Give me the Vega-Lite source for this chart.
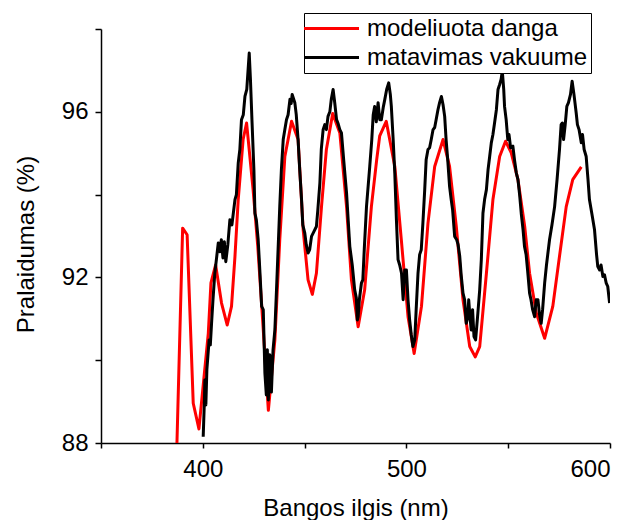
{
  "$schema": "https://vega.github.io/schema/vega-lite/v6.json",
  "width": 509,
  "height": 414,
  "autosize": {"type": "none"},
  "padding": {"left": 101, "top": 29, "right": 22, "bottom": 77},
  "background": "white",
  "config": {
    "font": "Liberation Sans",
    "view": {"stroke": null},
    "axis": {
      "grid": false,
      "domainColor": "black",
      "domainWidth": 1.5,
      "tickColor": "black",
      "tickWidth": 1.5,
      "labelColor": "black",
      "titleColor": "black",
      "labelFontSize": 24,
      "titleFontSize": 24,
      "titleFontWeight": "normal",
      "labelFont": "Liberation Sans",
      "titleFont": "Liberation Sans"
    }
  },
  "data": {"values": [
    {"series": "modeliuota danga", "x": 387.3, "y": 88.0},
    {"series": "modeliuota danga", "x": 390.1, "y": 93.19},
    {"series": "modeliuota danga", "x": 392.3, "y": 93.03},
    {"series": "modeliuota danga", "x": 395.3, "y": 88.96},
    {"series": "modeliuota danga", "x": 398.1, "y": 88.34},
    {"series": "modeliuota danga", "x": 402.7, "y": 90.65},
    {"series": "modeliuota danga", "x": 404.0, "y": 91.87},
    {"series": "modeliuota danga", "x": 406.3, "y": 92.30},
    {"series": "modeliuota danga", "x": 409.2, "y": 91.38},
    {"series": "modeliuota danga", "x": 412.0, "y": 90.85},
    {"series": "modeliuota danga", "x": 414.1, "y": 91.30},
    {"series": "modeliuota danga", "x": 415.8, "y": 92.51},
    {"series": "modeliuota danga", "x": 417.4, "y": 93.88},
    {"series": "modeliuota danga", "x": 419.8, "y": 95.33},
    {"series": "modeliuota danga", "x": 421.5, "y": 95.73},
    {"series": "modeliuota danga", "x": 424.7, "y": 94.12},
    {"series": "modeliuota danga", "x": 427.0, "y": 92.75},
    {"series": "modeliuota danga", "x": 429.6, "y": 90.81},
    {"series": "modeliuota danga", "x": 432.2, "y": 88.79},
    {"series": "modeliuota danga", "x": 435.4, "y": 90.49},
    {"series": "modeliuota danga", "x": 437.8, "y": 92.91},
    {"series": "modeliuota danga", "x": 440.3, "y": 94.92},
    {"series": "modeliuota danga", "x": 443.6, "y": 95.77},
    {"series": "modeliuota danga", "x": 446.8, "y": 95.33},
    {"series": "modeliuota danga", "x": 449.3, "y": 93.15},
    {"series": "modeliuota danga", "x": 451.7, "y": 91.94},
    {"series": "modeliuota danga", "x": 453.8, "y": 91.59},
    {"series": "modeliuota danga", "x": 455.8, "y": 92.10},
    {"series": "modeliuota danga", "x": 458.3, "y": 93.71},
    {"series": "modeliuota danga", "x": 460.7, "y": 95.09},
    {"series": "modeliuota danga", "x": 463.8, "y": 95.96},
    {"series": "modeliuota danga", "x": 467.3, "y": 95.49},
    {"series": "modeliuota danga", "x": 470.6, "y": 93.71},
    {"series": "modeliuota danga", "x": 473.0, "y": 91.94},
    {"series": "modeliuota danga", "x": 476.3, "y": 90.81},
    {"series": "modeliuota danga", "x": 479.5, "y": 91.70},
    {"series": "modeliuota danga", "x": 482.8, "y": 93.71},
    {"series": "modeliuota danga", "x": 485.4, "y": 94.84},
    {"series": "modeliuota danga", "x": 486.9, "y": 95.42},
    {"series": "modeliuota danga", "x": 490.1, "y": 95.77},
    {"series": "modeliuota danga", "x": 494.3, "y": 94.68},
    {"series": "modeliuota danga", "x": 497.5, "y": 92.91},
    {"series": "modeliuota danga", "x": 500.8, "y": 91.05},
    {"series": "modeliuota danga", "x": 503.8, "y": 90.16},
    {"series": "modeliuota danga", "x": 507.4, "y": 91.30},
    {"series": "modeliuota danga", "x": 510.6, "y": 93.31},
    {"series": "modeliuota danga", "x": 513.9, "y": 94.68},
    {"series": "modeliuota danga", "x": 518.0, "y": 95.33},
    {"series": "modeliuota danga", "x": 521.2, "y": 94.68},
    {"series": "modeliuota danga", "x": 524.5, "y": 93.23},
    {"series": "modeliuota danga", "x": 527.8, "y": 91.46},
    {"series": "modeliuota danga", "x": 531.1, "y": 90.33},
    {"series": "modeliuota danga", "x": 533.8, "y": 90.08},
    {"series": "modeliuota danga", "x": 536.0, "y": 90.33},
    {"series": "modeliuota danga", "x": 539.3, "y": 92.10},
    {"series": "modeliuota danga", "x": 542.5, "y": 93.88},
    {"series": "modeliuota danga", "x": 545.8, "y": 94.92},
    {"series": "modeliuota danga", "x": 548.7, "y": 95.29},
    {"series": "modeliuota danga", "x": 551.5, "y": 95.01},
    {"series": "modeliuota danga", "x": 554.8, "y": 94.36},
    {"series": "modeliuota danga", "x": 558.1, "y": 93.23},
    {"series": "modeliuota danga", "x": 560.5, "y": 92.10},
    {"series": "modeliuota danga", "x": 563.8, "y": 91.14},
    {"series": "modeliuota danga", "x": 567.9, "y": 90.53},
    {"series": "modeliuota danga", "x": 571.9, "y": 91.30},
    {"series": "modeliuota danga", "x": 575.2, "y": 92.51},
    {"series": "modeliuota danga", "x": 578.5, "y": 93.71},
    {"series": "modeliuota danga", "x": 581.7, "y": 94.36},
    {"series": "modeliuota danga", "x": 585.9, "y": 94.67},
    {"series": "matavimas vakuume", "x": 400.2, "y": 88.15},
    {"series": "matavimas vakuume", "x": 400.8, "y": 89.04},
    {"series": "matavimas vakuume", "x": 401.0, "y": 89.52},
    {"series": "matavimas vakuume", "x": 401.5, "y": 88.92},
    {"series": "matavimas vakuume", "x": 402.0, "y": 89.77},
    {"series": "matavimas vakuume", "x": 403.1, "y": 90.49},
    {"series": "matavimas vakuume", "x": 403.7, "y": 90.37},
    {"series": "matavimas vakuume", "x": 404.3, "y": 90.89},
    {"series": "matavimas vakuume", "x": 405.0, "y": 91.46},
    {"series": "matavimas vakuume", "x": 405.9, "y": 92.10},
    {"series": "matavimas vakuume", "x": 407.6, "y": 92.83},
    {"series": "matavimas vakuume", "x": 408.4, "y": 92.62},
    {"series": "matavimas vakuume", "x": 409.1, "y": 92.91},
    {"series": "matavimas vakuume", "x": 409.9, "y": 92.47},
    {"series": "matavimas vakuume", "x": 410.6, "y": 92.86},
    {"series": "matavimas vakuume", "x": 411.3, "y": 92.38},
    {"series": "matavimas vakuume", "x": 412.3, "y": 92.79},
    {"series": "matavimas vakuume", "x": 413.3, "y": 93.39},
    {"series": "matavimas vakuume", "x": 414.3, "y": 93.27},
    {"series": "matavimas vakuume", "x": 415.8, "y": 93.88},
    {"series": "matavimas vakuume", "x": 416.5, "y": 94.00},
    {"series": "matavimas vakuume", "x": 417.4, "y": 94.76},
    {"series": "matavimas vakuume", "x": 418.2, "y": 95.09},
    {"series": "matavimas vakuume", "x": 419.0, "y": 95.81},
    {"series": "matavimas vakuume", "x": 419.9, "y": 95.93},
    {"series": "matavimas vakuume", "x": 420.7, "y": 96.37},
    {"series": "matavimas vakuume", "x": 421.6, "y": 96.54},
    {"series": "matavimas vakuume", "x": 422.8, "y": 97.42},
    {"series": "matavimas vakuume", "x": 423.4, "y": 96.78},
    {"series": "matavimas vakuume", "x": 424.2, "y": 95.73},
    {"series": "matavimas vakuume", "x": 425.1, "y": 94.60},
    {"series": "matavimas vakuume", "x": 425.6, "y": 93.55},
    {"series": "matavimas vakuume", "x": 426.3, "y": 93.39},
    {"series": "matavimas vakuume", "x": 427.2, "y": 92.91},
    {"series": "matavimas vakuume", "x": 428.0, "y": 92.18},
    {"series": "matavimas vakuume", "x": 428.9, "y": 91.30},
    {"series": "matavimas vakuume", "x": 429.7, "y": 91.22},
    {"series": "matavimas vakuume", "x": 430.5, "y": 89.69},
    {"series": "matavimas vakuume", "x": 431.2, "y": 89.16},
    {"series": "matavimas vakuume", "x": 431.7, "y": 90.25},
    {"series": "matavimas vakuume", "x": 432.2, "y": 89.04},
    {"series": "matavimas vakuume", "x": 432.9, "y": 90.13},
    {"series": "matavimas vakuume", "x": 433.7, "y": 89.23},
    {"series": "matavimas vakuume", "x": 434.5, "y": 90.25},
    {"series": "matavimas vakuume", "x": 435.4, "y": 90.73},
    {"series": "matavimas vakuume", "x": 436.2, "y": 91.70},
    {"series": "matavimas vakuume", "x": 437.8, "y": 93.71},
    {"series": "matavimas vakuume", "x": 438.6, "y": 94.60},
    {"series": "matavimas vakuume", "x": 439.5, "y": 95.33},
    {"series": "matavimas vakuume", "x": 440.3, "y": 95.57},
    {"series": "matavimas vakuume", "x": 441.1, "y": 95.81},
    {"series": "matavimas vakuume", "x": 441.9, "y": 95.93},
    {"series": "matavimas vakuume", "x": 442.8, "y": 96.30},
    {"series": "matavimas vakuume", "x": 443.4, "y": 96.20},
    {"series": "matavimas vakuume", "x": 443.9, "y": 96.42},
    {"series": "matavimas vakuume", "x": 445.2, "y": 96.22},
    {"series": "matavimas vakuume", "x": 445.9, "y": 95.93},
    {"series": "matavimas vakuume", "x": 446.8, "y": 95.33},
    {"series": "matavimas vakuume", "x": 447.6, "y": 94.60},
    {"series": "matavimas vakuume", "x": 448.5, "y": 93.88},
    {"series": "matavimas vakuume", "x": 449.1, "y": 93.27},
    {"series": "matavimas vakuume", "x": 450.1, "y": 93.07},
    {"series": "matavimas vakuume", "x": 450.8, "y": 92.79},
    {"series": "matavimas vakuume", "x": 451.7, "y": 92.59},
    {"series": "matavimas vakuume", "x": 452.5, "y": 92.67},
    {"series": "matavimas vakuume", "x": 453.4, "y": 92.99},
    {"series": "matavimas vakuume", "x": 454.5, "y": 93.10},
    {"series": "matavimas vakuume", "x": 455.8, "y": 93.23},
    {"series": "matavimas vakuume", "x": 456.5, "y": 93.63},
    {"series": "matavimas vakuume", "x": 457.5, "y": 94.28},
    {"series": "matavimas vakuume", "x": 458.2, "y": 95.09},
    {"series": "matavimas vakuume", "x": 459.1, "y": 95.57},
    {"series": "matavimas vakuume", "x": 459.9, "y": 95.69},
    {"series": "matavimas vakuume", "x": 460.7, "y": 95.57},
    {"series": "matavimas vakuume", "x": 461.5, "y": 95.89},
    {"series": "matavimas vakuume", "x": 462.4, "y": 96.00},
    {"series": "matavimas vakuume", "x": 463.1, "y": 96.30},
    {"series": "matavimas vakuume", "x": 464.0, "y": 96.54},
    {"series": "matavimas vakuume", "x": 464.8, "y": 96.22},
    {"series": "matavimas vakuume", "x": 465.7, "y": 95.81},
    {"series": "matavimas vakuume", "x": 466.5, "y": 95.71},
    {"series": "matavimas vakuume", "x": 467.3, "y": 95.57},
    {"series": "matavimas vakuume", "x": 468.1, "y": 95.49},
    {"series": "matavimas vakuume", "x": 469.2, "y": 94.84},
    {"series": "matavimas vakuume", "x": 470.6, "y": 94.04},
    {"series": "matavimas vakuume", "x": 471.4, "y": 93.39},
    {"series": "matavimas vakuume", "x": 472.2, "y": 92.75},
    {"series": "matavimas vakuume", "x": 473.4, "y": 92.30},
    {"series": "matavimas vakuume", "x": 474.6, "y": 91.70},
    {"series": "matavimas vakuume", "x": 475.4, "y": 91.51},
    {"series": "matavimas vakuume", "x": 475.9, "y": 90.97},
    {"series": "matavimas vakuume", "x": 476.3, "y": 91.05},
    {"series": "matavimas vakuume", "x": 476.9, "y": 91.46},
    {"series": "matavimas vakuume", "x": 477.9, "y": 91.86},
    {"series": "matavimas vakuume", "x": 478.6, "y": 91.94},
    {"series": "matavimas vakuume", "x": 479.3, "y": 92.67},
    {"series": "matavimas vakuume", "x": 480.4, "y": 93.71},
    {"series": "matavimas vakuume", "x": 482.0, "y": 94.68},
    {"series": "matavimas vakuume", "x": 483.0, "y": 95.33},
    {"series": "matavimas vakuume", "x": 483.7, "y": 95.93},
    {"series": "matavimas vakuume", "x": 484.4, "y": 96.13},
    {"series": "matavimas vakuume", "x": 485.2, "y": 95.76},
    {"series": "matavimas vakuume", "x": 486.1, "y": 96.22},
    {"series": "matavimas vakuume", "x": 486.9, "y": 95.81},
    {"series": "matavimas vakuume", "x": 487.7, "y": 95.81},
    {"series": "matavimas vakuume", "x": 488.6, "y": 96.10},
    {"series": "matavimas vakuume", "x": 489.4, "y": 96.30},
    {"series": "matavimas vakuume", "x": 490.3, "y": 96.54},
    {"series": "matavimas vakuume", "x": 491.3, "y": 96.70},
    {"series": "matavimas vakuume", "x": 492.1, "y": 96.42},
    {"series": "matavimas vakuume", "x": 492.6, "y": 96.13},
    {"series": "matavimas vakuume", "x": 493.5, "y": 95.33},
    {"series": "matavimas vakuume", "x": 494.3, "y": 94.52},
    {"series": "matavimas vakuume", "x": 495.1, "y": 93.39},
    {"series": "matavimas vakuume", "x": 495.9, "y": 92.43},
    {"series": "matavimas vakuume", "x": 496.7, "y": 92.30},
    {"series": "matavimas vakuume", "x": 497.6, "y": 92.10},
    {"series": "matavimas vakuume", "x": 498.4, "y": 91.46},
    {"series": "matavimas vakuume", "x": 499.2, "y": 92.18},
    {"series": "matavimas vakuume", "x": 500.0, "y": 92.18},
    {"series": "matavimas vakuume", "x": 500.8, "y": 91.46},
    {"series": "matavimas vakuume", "x": 501.6, "y": 90.97},
    {"series": "matavimas vakuume", "x": 502.4, "y": 90.61},
    {"series": "matavimas vakuume", "x": 503.2, "y": 90.33},
    {"series": "matavimas vakuume", "x": 504.1, "y": 90.49},
    {"series": "matavimas vakuume", "x": 504.8, "y": 91.22},
    {"series": "matavimas vakuume", "x": 505.7, "y": 92.10},
    {"series": "matavimas vakuume", "x": 506.5, "y": 92.55},
    {"series": "matavimas vakuume", "x": 507.3, "y": 92.67},
    {"series": "matavimas vakuume", "x": 508.1, "y": 93.31},
    {"series": "matavimas vakuume", "x": 509.0, "y": 94.12},
    {"series": "matavimas vakuume", "x": 509.7, "y": 94.84},
    {"series": "matavimas vakuume", "x": 510.6, "y": 95.09},
    {"series": "matavimas vakuume", "x": 511.4, "y": 95.13},
    {"series": "matavimas vakuume", "x": 512.2, "y": 95.33},
    {"series": "matavimas vakuume", "x": 513.1, "y": 95.57},
    {"series": "matavimas vakuume", "x": 513.9, "y": 95.62},
    {"series": "matavimas vakuume", "x": 514.6, "y": 95.81},
    {"series": "matavimas vakuume", "x": 515.5, "y": 96.05},
    {"series": "matavimas vakuume", "x": 516.3, "y": 96.22},
    {"series": "matavimas vakuume", "x": 517.2, "y": 96.37},
    {"series": "matavimas vakuume", "x": 518.0, "y": 96.17},
    {"series": "matavimas vakuume", "x": 518.8, "y": 95.89},
    {"series": "matavimas vakuume", "x": 519.5, "y": 95.33},
    {"series": "matavimas vakuume", "x": 520.3, "y": 94.84},
    {"series": "matavimas vakuume", "x": 521.2, "y": 94.20},
    {"series": "matavimas vakuume", "x": 522.0, "y": 93.88},
    {"series": "matavimas vakuume", "x": 522.7, "y": 93.63},
    {"series": "matavimas vakuume", "x": 523.7, "y": 92.99},
    {"series": "matavimas vakuume", "x": 524.7, "y": 92.91},
    {"series": "matavimas vakuume", "x": 525.4, "y": 92.79},
    {"series": "matavimas vakuume", "x": 526.2, "y": 92.51},
    {"series": "matavimas vakuume", "x": 526.9, "y": 92.06},
    {"series": "matavimas vakuume", "x": 527.8, "y": 91.62},
    {"series": "matavimas vakuume", "x": 528.6, "y": 91.46},
    {"series": "matavimas vakuume", "x": 529.4, "y": 90.89},
    {"series": "matavimas vakuume", "x": 530.1, "y": 91.02},
    {"series": "matavimas vakuume", "x": 530.6, "y": 91.46},
    {"series": "matavimas vakuume", "x": 531.1, "y": 91.14},
    {"series": "matavimas vakuume", "x": 531.8, "y": 90.73},
    {"series": "matavimas vakuume", "x": 532.5, "y": 91.22},
    {"series": "matavimas vakuume", "x": 533.2, "y": 90.57},
    {"series": "matavimas vakuume", "x": 534.0, "y": 90.49},
    {"series": "matavimas vakuume", "x": 535.1, "y": 91.14},
    {"series": "matavimas vakuume", "x": 536.0, "y": 91.70},
    {"series": "matavimas vakuume", "x": 536.8, "y": 92.43},
    {"series": "matavimas vakuume", "x": 537.6, "y": 93.55},
    {"series": "matavimas vakuume", "x": 538.4, "y": 93.88},
    {"series": "matavimas vakuume", "x": 539.3, "y": 94.12},
    {"series": "matavimas vakuume", "x": 540.1, "y": 94.60},
    {"series": "matavimas vakuume", "x": 540.9, "y": 94.92},
    {"series": "matavimas vakuume", "x": 541.7, "y": 95.25},
    {"series": "matavimas vakuume", "x": 542.5, "y": 95.45},
    {"series": "matavimas vakuume", "x": 543.3, "y": 95.73},
    {"series": "matavimas vakuume", "x": 544.2, "y": 96.05},
    {"series": "matavimas vakuume", "x": 545.0, "y": 96.54},
    {"series": "matavimas vakuume", "x": 545.8, "y": 96.66},
    {"series": "matavimas vakuume", "x": 546.5, "y": 96.78},
    {"series": "matavimas vakuume", "x": 547.1, "y": 96.98},
    {"series": "matavimas vakuume", "x": 547.8, "y": 96.54},
    {"series": "matavimas vakuume", "x": 548.2, "y": 96.13},
    {"series": "matavimas vakuume", "x": 549.0, "y": 95.81},
    {"series": "matavimas vakuume", "x": 549.8, "y": 95.33},
    {"series": "matavimas vakuume", "x": 550.4, "y": 95.45},
    {"series": "matavimas vakuume", "x": 551.2, "y": 95.13},
    {"series": "matavimas vakuume", "x": 552.3, "y": 95.17},
    {"series": "matavimas vakuume", "x": 553.1, "y": 94.84},
    {"series": "matavimas vakuume", "x": 554.0, "y": 94.52},
    {"series": "matavimas vakuume", "x": 554.8, "y": 94.36},
    {"series": "matavimas vakuume", "x": 555.6, "y": 94.00},
    {"series": "matavimas vakuume", "x": 556.4, "y": 93.55},
    {"series": "matavimas vakuume", "x": 557.3, "y": 93.15},
    {"series": "matavimas vakuume", "x": 558.0, "y": 92.75},
    {"series": "matavimas vakuume", "x": 558.8, "y": 92.55},
    {"series": "matavimas vakuume", "x": 559.5, "y": 92.18},
    {"series": "matavimas vakuume", "x": 560.5, "y": 91.62},
    {"series": "matavimas vakuume", "x": 561.2, "y": 91.46},
    {"series": "matavimas vakuume", "x": 562.0, "y": 91.22},
    {"series": "matavimas vakuume", "x": 563.0, "y": 91.05},
    {"series": "matavimas vakuume", "x": 563.7, "y": 91.46},
    {"series": "matavimas vakuume", "x": 564.6, "y": 91.46},
    {"series": "matavimas vakuume", "x": 565.4, "y": 91.10},
    {"series": "matavimas vakuume", "x": 566.2, "y": 90.89},
    {"series": "matavimas vakuume", "x": 566.9, "y": 91.22},
    {"series": "matavimas vakuume", "x": 567.9, "y": 91.86},
    {"series": "matavimas vakuume", "x": 568.8, "y": 92.30},
    {"series": "matavimas vakuume", "x": 570.3, "y": 92.91},
    {"series": "matavimas vakuume", "x": 571.5, "y": 93.27},
    {"series": "matavimas vakuume", "x": 572.8, "y": 93.71},
    {"series": "matavimas vakuume", "x": 574.0, "y": 94.36},
    {"series": "matavimas vakuume", "x": 575.2, "y": 95.09},
    {"series": "matavimas vakuume", "x": 576.0, "y": 95.69},
    {"series": "matavimas vakuume", "x": 576.6, "y": 95.73},
    {"series": "matavimas vakuume", "x": 577.2, "y": 95.33},
    {"series": "matavimas vakuume", "x": 578.0, "y": 95.69},
    {"series": "matavimas vakuume", "x": 578.8, "y": 96.13},
    {"series": "matavimas vakuume", "x": 579.6, "y": 96.22},
    {"series": "matavimas vakuume", "x": 580.6, "y": 96.42},
    {"series": "matavimas vakuume", "x": 581.4, "y": 96.74},
    {"series": "matavimas vakuume", "x": 582.3, "y": 96.42},
    {"series": "matavimas vakuume", "x": 583.4, "y": 95.97},
    {"series": "matavimas vakuume", "x": 584.0, "y": 95.69},
    {"series": "matavimas vakuume", "x": 584.8, "y": 95.57},
    {"series": "matavimas vakuume", "x": 585.9, "y": 95.25},
    {"series": "matavimas vakuume", "x": 586.5, "y": 95.45},
    {"series": "matavimas vakuume", "x": 587.3, "y": 95.09},
    {"series": "matavimas vakuume", "x": 588.3, "y": 94.92},
    {"series": "matavimas vakuume", "x": 589.2, "y": 94.36},
    {"series": "matavimas vakuume", "x": 589.9, "y": 93.88},
    {"series": "matavimas vakuume", "x": 591.2, "y": 93.51},
    {"series": "matavimas vakuume", "x": 592.4, "y": 93.15},
    {"series": "matavimas vakuume", "x": 593.4, "y": 92.55},
    {"series": "matavimas vakuume", "x": 594.0, "y": 92.26},
    {"series": "matavimas vakuume", "x": 594.9, "y": 92.18},
    {"series": "matavimas vakuume", "x": 595.6, "y": 92.30},
    {"series": "matavimas vakuume", "x": 596.5, "y": 92.02},
    {"series": "matavimas vakuume", "x": 597.3, "y": 92.06},
    {"series": "matavimas vakuume", "x": 598.1, "y": 91.87},
    {"series": "matavimas vakuume", "x": 598.9, "y": 91.78},
    {"series": "matavimas vakuume", "x": 599.8, "y": 91.38}
  ]},
  "mark": {"type": "line", "strokeWidth": 3, "clip": true, "strokeJoin": "round"},
  "encoding": {
    "x": {
      "field": "x", "type": "quantitative",
      "scale": {"domain": [350, 600], "nice": false, "zero": false},
      "axis": {
        "values": [350, 400, 450, 500, 550, 600],
        "labelExpr": "datum.value % 100 == 0 ? datum.label : ''",
        "tickSize": 5, "labelPadding": 9,
        "title": "Bangos ilgis (nm)", "titleY": 53
      }
    },
    "y": {
      "field": "y", "type": "quantitative",
      "scale": {"domain": [88, 98], "nice": false, "zero": false},
      "axis": {
        "values": [88, 90, 92, 94, 96, 98],
        "labelExpr": "datum.value % 4 == 0 ? datum.label : ''",
        "tickSize": 6, "labelPadding": 7,
        "title": "Pralaidumas (%)", "titleX": -63, "titleY": 215
      }
    },
    "color": {
      "field": "series", "type": "nominal",
      "scale": {"domain": ["modeliuota danga", "matavimas vakuume"], "range": ["#ff0000", "#000000"]},
      "legend": {
        "title": null,
        "orient": "none",
        "legendX": 203,
        "legendY": -16,
        "fillColor": "white",
        "strokeColor": "black",
        "padding": 3,
        "symbolType": "M-2.5,0L2.5,0",
        "symbolSize": 484,
        "symbolStrokeWidth": 3,
        "symbolOffset": 12,
        "labelOffset": 23,
        "labelFontSize": 24,
        "labelFont": "Liberation Sans",
        "labelColor": "black",
        "labelLimit": 400,
        "rowPadding": 4
      }
    }
  }
}
